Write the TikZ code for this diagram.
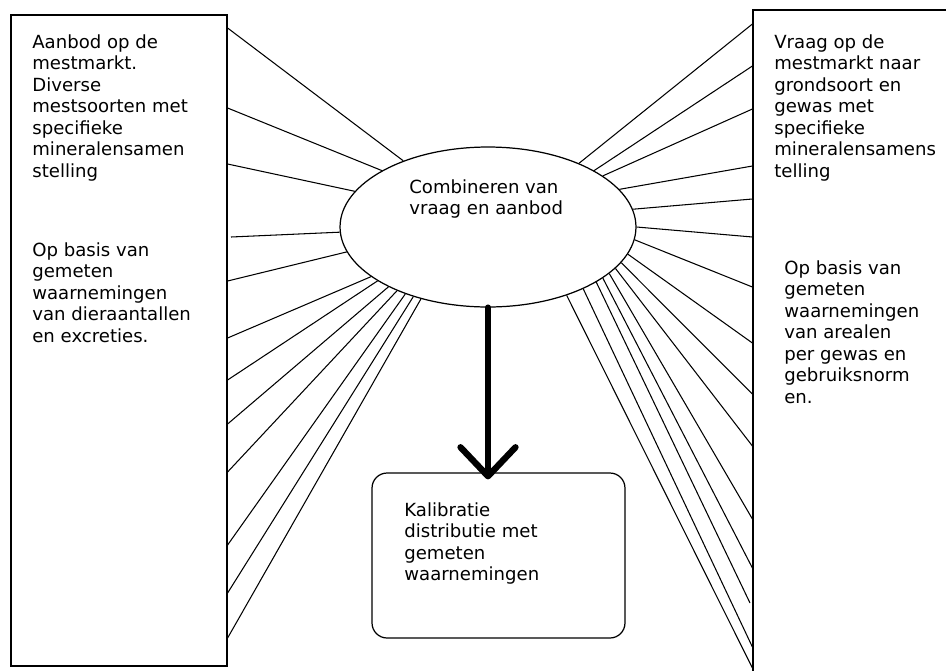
\documentclass[tikz,border=0pt]{standalone}
\usepackage{fontspec}
\setmainfont{DejaVu Sans}
\usetikzlibrary{shapes.geometric}
\usetikzlibrary{arrows.meta}
\tikzset{
  txt/.style={anchor=north west, inner sep=0pt, align=left, font=\fontsize{10.3}{12.24}\selectfont},
  kader/.style={draw, line width=0.7pt, inner sep=0pt},
  lijn/.style={line width=0.6pt}
}

\begin{document}
\begin{tikzpicture}[x=0.02cm,y=-0.02cm]
\clip (0,0) rectangle (946,670);
\node[kader, minimum width=4.32cm, minimum height=13.02cm] (aanbod) at (119,340.5) {};
\node[kader, minimum width=4.14cm, minimum height=13.6cm] (vraag) at (856.5,350) {};
\node[kader, ellipse, minimum width=5.92cm, minimum height=3.2cm] (combi) at (488,227) {};
\node[kader, rounded corners=0.3cm, minimum width=5.06cm, minimum height=3.3cm] (kalib) at (498.5,555.5) {};

\node[txt] (aanbodtxt) at (32,34) {Aanbod op de\\mestmarkt.\\Diverse\\mestsoorten met\\specifieke\\mineralensamen\\stelling};
\node[txt] (aanbodbasis) at (32,242) {Op basis van\\gemeten\\waarnemingen\\van dieraantallen\\en excreties.};
\node[txt] (vraagtxt) at (774,34) {Vraag op de\\mestmarkt naar\\grondsoort en\\gewas met\\specifieke\\mineralensamens\\telling};
\node[txt] (vraagbasis) at (784,260) {Op basis van\\gemeten\\waarnemingen\\van arealen\\per gewas en\\gebruiksnorm\\en.};
\node[txt] (combitxt) at (409,179) {Combineren van\\vraag en aanbod};
\node[txt] (kalibtxt) at (404,502) {Kalibratie\\distributie met\\gemeten\\waarnemingen};

\coordinate (losL) at (231,237);
\coordinate (losR) at (750,603);

\draw[lijn] (aanbod.east |- 0,28) -- (combi.142);
\draw[lijn] (aanbod.east |- 0,108) -- (combi.152);
\draw[lijn] (aanbod.east |- 0,164) -- (combi.165);
\draw[lijn] (losL) -- (combi.182);
\draw[lijn] (aanbod.east |- 0,281) -- (combi.190);
\draw[lijn] (aanbod.east |- 0,338) -- (combi.203);
\draw[lijn] (aanbod.east |- 0,380) -- (combi.206);
\draw[lijn] (aanbod.east |- 0,424) -- (combi.211);
\draw[lijn] (aanbod.east |- 0,472) -- (combi.215);
\draw[lijn] (aanbod.east |- 0,545) -- (combi.219);
\draw[lijn] (aanbod.east |- 0,593) -- (combi.223);
\draw[lijn] (aanbod.east |- 0,638) -- (combi.227);

\draw[lijn] (vraag.west |- 0,24) -- (combi.35);
\draw[lijn] (vraag.west |- 0,66) -- (combi.28);
\draw[lijn] (vraag.west |- 0,109) -- (combi.24);
\draw[lijn] (vraag.west |- 0,166) -- (combi.16);
\draw[lijn] (vraag.west |- 0,199) -- (combi.7);
\draw[lijn] (vraag.west |- 0,237) -- (combi.0);
\draw[lijn] (vraag.west |- 0,287) -- (combi.355);
\draw[lijn] (vraag.west |- 0,343) -- (combi.349);
\draw[lijn] (vraag.west |- 0,394) -- (combi.345);
\draw[lijn] (vraag.west |- 0,446) -- (combi.342);
\draw[lijn] (vraag.west |- 0,519) -- (combi.339);
\draw[lijn] (vraag.west |- 0,568) -- (combi.336);
\draw[lijn] (losR) -- (combi.333);
\draw[lijn] (vraag.west |- 0,647) -- (combi.327);
\draw[lijn] (vraag.west |- 0,668) -- (combi.319);

\draw[line width=3.6pt, line cap=round, -{Straight Barb[length=0.58cm, width=1.1cm, line cap=round, line join=round]}, shorten >=-0.14cm] (combi.south) -- (combi.south |- kalib.north);
\end{tikzpicture}
\end{document}
